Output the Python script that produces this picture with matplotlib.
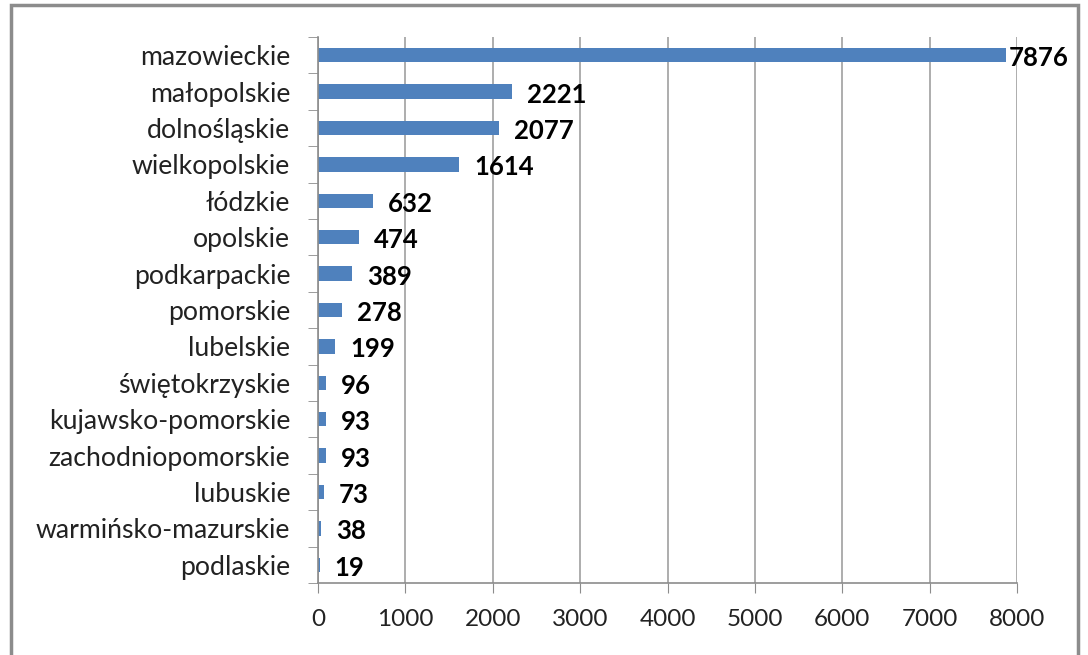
import matplotlib.pyplot as plt
from matplotlib.patches import Rectangle

# Data
regions = [
    "mazowieckie", "małopolskie", "dolnośląskie", "wielkopolskie", "łódzkie",
    "opolskie", "podkarpackie", "pomorskie", "lubelskie", "świętokrzyskie",
    "kujawsko-pomorskie", "zachodniopomorskie", "lubuskie",
    "warmińsko-mazurskie", "podlaskie",
]
counts = [7876, 2221, 2077, 1614, 632, 474, 389, 278, 199, 96, 93, 93, 73, 38, 19]
xticks = [0, 1000, 2000, 3000, 4000, 5000, 6000, 7000, 8000]

plt.rcParams["font.family"] = ["Lato", "DejaVu Sans"]

fig = plt.figure(figsize=(10.88, 6.55), dpi=100)
ax = fig.add_axes([318 / 1088, 1 - 583 / 655, (1017 - 318) / 1088, (583 - 37) / 655])

# Outer chart border (bottom edge falls outside the image)
fig.patches.append(Rectangle((11 / 1088, -0.05), (1078 - 11) / 1088, 1.05 - 5 / 655,
                             transform=fig.transFigure, fill=False,
                             edgecolor="#8c8c8c", linewidth=2.5))

pos = list(range(len(regions)))[::-1]
ax.barh(pos, counts, height=0.4, color="#4f81bd", zorder=2)

for y, v in zip(pos, counts):
    ax.text(min(v + 170, 7900), y - 0.08, str(v), va="center", ha="left",
            fontsize=18.5, fontweight="bold", color="black", zorder=3)

ax.set_xlim(0, 8000)
ax.set_ylim(-0.5, len(regions) - 0.5)
ax.set_xticks(xticks)
ax.set_xticklabels([str(t) for t in xticks], fontsize=17.5, color="#222222")
ax.set_yticks(pos)
ax.set_yticklabels(regions, fontsize=19.2, color="#222222")

# Excel-style ticks: between categories on y, outward on x
ax.set_yticks([p + 0.5 for p in range(-1, len(regions))], minor=True)
ax.tick_params(axis="y", which="major", length=0, pad=20)
ax.tick_params(axis="y", which="minor", length=7, color="#8c8c8c", direction="out")
ax.tick_params(axis="x", length=7, color="#8c8c8c", pad=12)

ax.grid(axis="x", color="#a0a0a0", linewidth=1.2, zorder=0)
ax.set_axisbelow(True)
for side in ["top", "right"]:
    ax.spines[side].set_visible(False)
for side in ["left", "bottom"]:
    ax.spines[side].set_color("#8c8c8c")
    ax.spines[side].set_linewidth(1.2)

fig.savefig("out.png", dpi=100)
